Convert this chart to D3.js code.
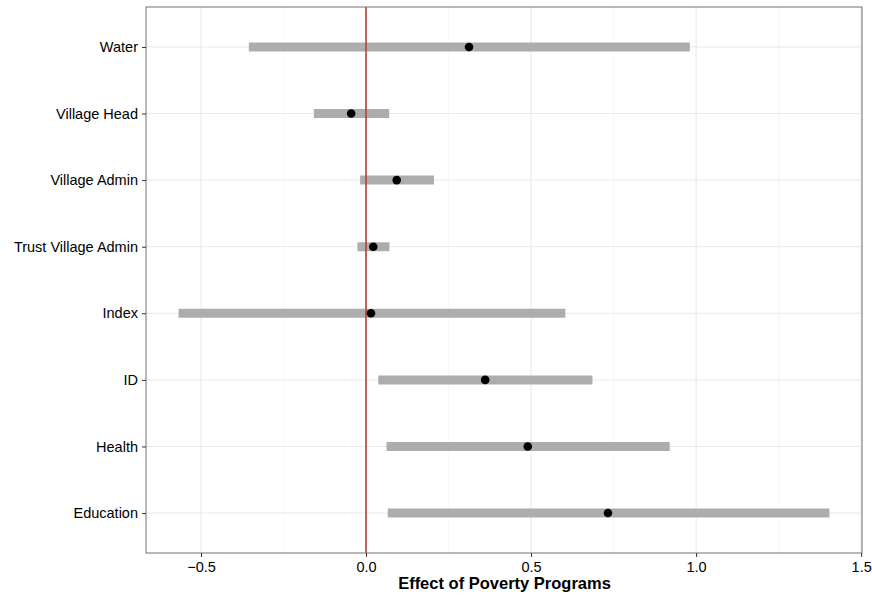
<!DOCTYPE html>
<html>
<head>
<meta charset="utf-8">
<script src="https://cdn.jsdelivr.net/npm/d3@7/dist/d3.min.js"></script>
<style>
  html, body { margin: 0; padding: 0; background: #fff; }
  svg { display: block; }
  text { font-family: "Liberation Sans", Arial, Helvetica, sans-serif; }
</style>
</head>
<body>
<svg id="chart" width="872" height="597"></svg>
<script>
// Outcomes, top to bottom
const categories = ["Water", "Village Head", "Village Admin", "Trust Village Admin", "Index", "ID", "Health", "Education"];
// Point estimates and interval bounds
const estimates = [0.312, -0.045, 0.093, 0.022, 0.015, 0.361, 0.490, 0.733];
const lower     = [-0.355, -0.158, -0.018, -0.026, -0.568, 0.037, 0.062, 0.066];
const upper     = [0.981, 0.070, 0.206, 0.071, 0.604, 0.686, 0.920, 1.404];
const xTicks = [-0.5, 0.0, 0.5, 1.0, 1.5];
const xMinorTicks = [-0.25, 0.25, 0.75, 1.25];
const xTitle = "Effect of Poverty Programs";

const svg = d3.select("#chart");
const panel = { left: 146, right: 862, top: 7, bottom: 553 };

// x domain padded by 5% of the data range
const lo = d3.min(lower), hi = d3.max(upper);
const pad = (hi - lo) * 0.05;
const x = d3.scaleLinear().domain([lo - pad, hi + pad]).range([panel.left, panel.right]);

// discrete y positions with 0.6 units of padding at each end
const n = categories.length;
const yIdx = d3.scaleLinear().domain([0.4, n + 0.6]).range([panel.top, panel.bottom]);
const y = c => yIdx(categories.indexOf(c) + 1);

const rows = categories.map((c, i) => ({ c, est: estimates[i], lo: lower[i], hi: upper[i] }));

// gridlines
const grid = svg.append("g");
grid.selectAll("line.minor").data(xMinorTicks).join("line")
  .attr("x1", d => x(d)).attr("x2", d => x(d))
  .attr("y1", panel.top).attr("y2", panel.bottom)
  .attr("stroke", "#f7f7f7").attr("stroke-width", 1);
grid.selectAll("line.majx").data(xTicks).join("line")
  .attr("x1", d => x(d)).attr("x2", d => x(d))
  .attr("y1", panel.top).attr("y2", panel.bottom)
  .attr("stroke", "#e8e8e8").attr("stroke-width", 1);
grid.selectAll("line.majy").data(categories).join("line")
  .attr("x1", panel.left).attr("x2", panel.right)
  .attr("y1", d => y(d)).attr("y2", d => y(d))
  .attr("stroke", "#e8e8e8").attr("stroke-width", 1);

// interval bars
svg.append("g").selectAll("line").data(rows).join("line")
  .attr("x1", d => x(d.lo)).attr("x2", d => x(d.hi))
  .attr("y1", d => y(d.c)).attr("y2", d => y(d.c))
  .attr("stroke", "#a9a9a9").attr("stroke-opacity", 0.95).attr("stroke-width", 9);

// reference line at zero
svg.append("line")
  .attr("x1", x(0)).attr("x2", x(0))
  .attr("y1", panel.top).attr("y2", panel.bottom)
  .attr("stroke", "#b4403c").attr("stroke-width", 1.6);

// point estimates
svg.append("g").selectAll("circle").data(rows).join("circle")
  .attr("cx", d => x(d.est)).attr("cy", d => y(d.c))
  .attr("r", 4.3).attr("fill", "#000");

// panel border
svg.append("rect")
  .attr("x", panel.left).attr("y", panel.top)
  .attr("width", panel.right - panel.left).attr("height", panel.bottom - panel.top)
  .attr("fill", "none").attr("stroke", "#7f7f7f").attr("stroke-width", 1.1);

// x axis
const xAxis = d3.axisBottom(x).tickValues(xTicks).tickSize(4).tickPadding(5)
  .tickFormat(d => d3.format(".1f")(d).replace("-", "\u2212"));
const gx = svg.append("g").attr("transform", `translate(0,${panel.bottom})`).call(xAxis);
gx.select(".domain").remove();
gx.selectAll(".tick line").attr("stroke", "#333");
gx.selectAll(".tick text").attr("font-size", 14.5).attr("fill", "#000")
  .attr("font-family", "'Liberation Sans', Arial, sans-serif");

// y axis
const yAxis = d3.axisLeft(d3.scalePoint().domain(categories).range([y(categories[0]), y(categories[n - 1])]))
  .tickSize(4).tickPadding(4);
const gy = svg.append("g").attr("transform", `translate(${panel.left},0)`).call(yAxis);
gy.select(".domain").remove();
gy.selectAll(".tick line").attr("stroke", "#333");
gy.selectAll(".tick text").attr("font-size", 14.5).attr("fill", "#000")
  .attr("font-family", "'Liberation Sans', Arial, sans-serif");

// axis title
svg.append("text")
  .attr("x", (panel.left + panel.right) / 2 + 0.5).attr("y", 589)
  .attr("text-anchor", "middle").attr("font-size", 16.5).attr("font-weight", "bold")
  .attr("fill", "#000").text(xTitle);
</script>
</body>
</html>
